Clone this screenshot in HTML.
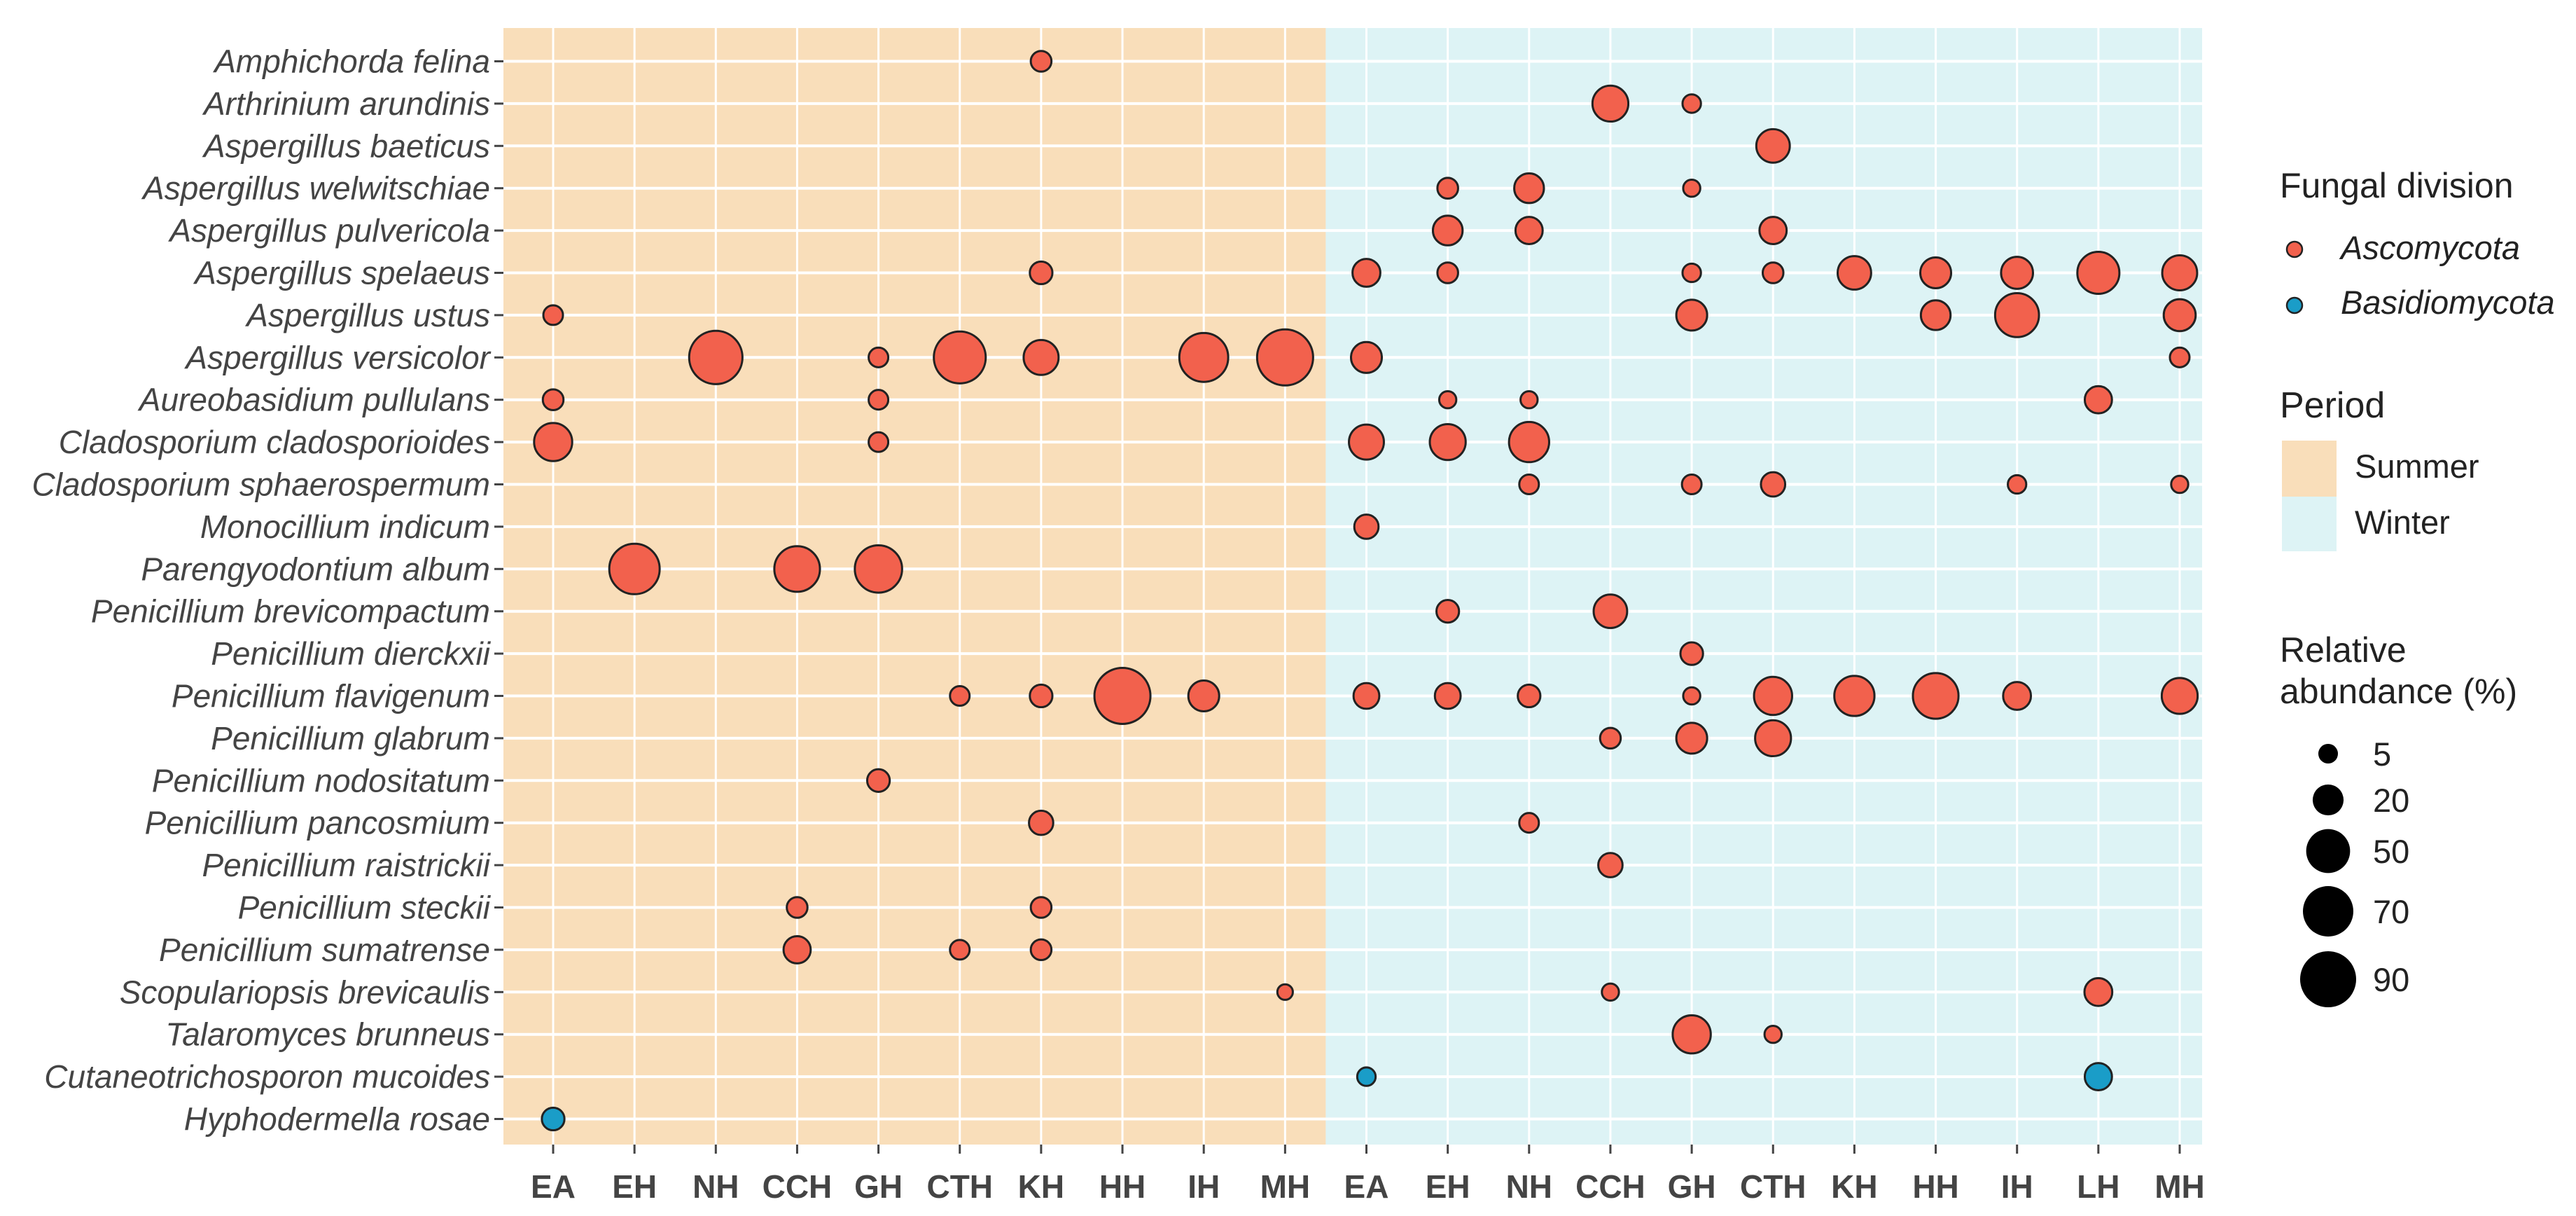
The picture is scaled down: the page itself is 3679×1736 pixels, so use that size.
<!DOCTYPE html>
<html><head><meta charset="utf-8"><style>
html,body{margin:0;padding:0;background:#fff;}
svg{display:block;font-family:"Liberation Sans",Arial,sans-serif;}
</style></head><body>
<svg id="chart" width="3679" height="1736" viewBox="0 0 3679 1736" xmlns="http://www.w3.org/2000/svg"></svg>
<script>
const species = ["Amphichorda felina","Arthrinium arundinis","Aspergillus baeticus","Aspergillus welwitschiae","Aspergillus pulvericola","Aspergillus spelaeus","Aspergillus ustus","Aspergillus versicolor","Aureobasidium pullulans","Cladosporium cladosporioides","Cladosporium sphaerospermum","Monocillium indicum","Parengyodontium album","Penicillium brevicompactum","Penicillium dierckxii","Penicillium flavigenum","Penicillium glabrum","Penicillium nodositatum","Penicillium pancosmium","Penicillium raistrickii","Penicillium steckii","Penicillium sumatrense","Scopulariopsis brevicaulis","Talaromyces brunneus","Cutaneotrichosporon mucoides","Hyphodermella rosae"];
const basidio = ["Cutaneotrichosporon mucoides","Hyphodermella rosae"];
const summerSites = ["EA","EH","NH","CCH","GH","CTH","KH","HH","IH","MH"];
const winterSites = ["EA","EH","NH","CCH","GH","CTH","KH","HH","IH","LH","MH"];
// [species index, site, abundance %]
const summerPoints = [
[0,"KH",6],[5,"KH",8],[6,"EA",5],
[7,"NH",80],[7,"GH",5],[7,"CTH",75],[7,"KH",28],[7,"IH",65],[7,"MH",90],
[8,"EA",6],[8,"GH",5],[9,"EA",35],[9,"GH",5],
[12,"EH",70],[12,"CCH",55],[12,"GH",60],
[15,"CTH",5],[15,"KH",8],[15,"HH",90],[15,"IH",20],
[17,"GH",8],[18,"KH",10],[20,"CCH",6],[20,"KH",6],
[21,"CCH",14],[21,"CTH",5],[21,"KH",6],[22,"MH",2],[25,"EA",8]];
const winterPoints = [
[1,"CCH",30],[1,"GH",4],[2,"CTH",25],
[3,"EH",6],[3,"NH",18],[3,"GH",3],
[4,"EH",18],[4,"NH",14],[4,"CTH",14],
[5,"EA",15],[5,"EH",6],[5,"GH",4],[5,"CTH",6],[5,"KH",25],[5,"HH",20],[5,"IH",22],[5,"LH",45],[5,"MH",28],
[6,"GH",20],[6,"HH",18],[6,"IH",50],[6,"MH",22],
[7,"EA",20],[7,"MH",5],
[8,"EH",3],[8,"NH",3],[8,"LH",14],
[9,"EA",28],[9,"EH",30],[9,"NH",40],
[10,"NH",5],[10,"GH",5],[10,"CTH",10],[10,"IH",4],[10,"MH",3],
[11,"EA",10],[13,"EH",8],[13,"CCH",25],[14,"GH",8],
[15,"EA",12],[15,"EH",12],[15,"NH",8],[15,"GH",3],[15,"CTH",35],[15,"KH",40],[15,"HH",55],[15,"IH",15],[15,"MH",30],
[16,"CCH",6],[16,"GH",20],[16,"CTH",30],
[18,"NH",5],[19,"CCH",10],
[22,"CCH",3],[22,"LH",15],
[23,"GH",35],[23,"CTH",3],
[24,"EA",4],[24,"LH",14]];
const sizeLegend = [5,20,50,70,90];

const NS="http://www.w3.org/2000/svg";
const svg=document.getElementById('chart');
function mk(t,a,p){const e=document.createElementNS(NS,t);for(const k in a)e.setAttribute(k,a[k]);(p||svg).appendChild(e);return e;}
const L=719,R=3145,T=40,B=1634;
const x0=790,dx=116.15,y0=87.5,dy=60.4;
const nS=summerSites.length;
function xPos(period,site){return period==="S"? x0+summerSites.indexOf(site)*dx : x0+(nS+winterSites.indexOf(site))*dx;}
function yPos(i){return y0+i*dy;}
function diam(v){return 12+7.17*Math.sqrt(v);}
const split=(xPos("S",summerSites[nS-1])+xPos("W",winterSites[0]))/2;
let r=mk('rect',{x:L,y:T,width:split-L,height:B-T,fill:'#F9DEBA'});


r=mk('rect',{x:split,y:T,width:R-split,height:B-T,fill:'#DDF3F5'});


const grid=mk('g',{stroke:'#fff'});


species.forEach((s,i)=>{mk('line',{x1:L,x2:R,y1:yPos(i),y2:yPos(i),'stroke-width':4},grid);});
const allCols=summerSites.map(s=>["S",s]).concat(winterSites.map(s=>["W",s]));
allCols.forEach(c=>{const x=xPos(c[0],c[1]);mk('line',{x1:x,x2:x,y1:T,y2:B,'stroke-width':3},grid);});
species.forEach((s,i)=>{
  const t=mk('text',{x:700,y:yPos(i)+16,'text-anchor':'end','font-size':46,'font-style':'italic',fill:'#444'});
  t.textContent=s;
  
  
  mk('line',{x1:706,x2:719,y1:yPos(i),y2:yPos(i),stroke:'#444','stroke-width':3});
});
allCols.forEach(c=>{
  const x=xPos(c[0],c[1]);
  mk('line',{x1:x,x2:x,y1:B,y2:B+13,stroke:'#444','stroke-width':3});
  const t=mk('text',{x:x,y:1710,'text-anchor':'middle','font-size':46,'font-weight':'bold',fill:'#444'});
  t.textContent=c[1];
  
  
});
function drawPts(arr,period){
  arr.forEach(p=>{
    const col=basidio.includes(species[p[0]])?'#1A9DC8':'#F2614D';
    const c=mk('circle',{cx:xPos(period,p[1]),cy:yPos(p[0]),r:diam(p[2])/2,fill:col,stroke:'#222','stroke-width':3});
    
    
  });
}
drawPts(summerPoints,"S");
drawPts(winterPoints,"W");
function txt(x,y,s,fs,extra,name){const t=mk('text',Object.assign({x:x,y:y,'font-size':fs,fill:'#222'},extra||{}));t.textContent=s;return t;}
txt(3256,282,"Fungal division",50,{},'legend-title-division');
let c=mk('circle',{cx:3277,cy:356,r:11,fill:'#F2614D',stroke:'#222','stroke-width':2.5});


txt(3343,370,"Ascomycota",47,{'font-style':'italic'},'legend-entry-ascomycota');
c=mk('circle',{cx:3277,cy:436,r:11,fill:'#1A9DC8',stroke:'#222','stroke-width':2.5});


txt(3343,448,"Basidiomycota",47,{'font-style':'italic'},'legend-entry-basidiomycota');
txt(3256,596,"Period",52,{},'legend-title-period');
r=mk('rect',{x:3259,y:629,width:78,height:80,fill:'#F9DEBA'});


r=mk('rect',{x:3259,y:709,width:78,height:78,fill:'#DDF3F5'});


txt(3363,682,"Summer",47,{},'legend-entry-summer');
txt(3363,762,"Winter",47,{},'legend-entry-winter');
txt(3256,945,"Relative",50,{},'legend-title-abundance');
txt(3256,1004,"abundance (%)",50,{},'legend-title-abundance-2');
const legY=[1076,1142,1215,1301,1398];
sizeLegend.forEach((v,i)=>{
  const cc=mk('circle',{cx:3325,cy:legY[i],r:diam(v)/2,fill:'#000'});
  
  
  txt(3389,legY[i]+17,String(v),47,{},'legend-size-label');
});
</script>
</body></html>
